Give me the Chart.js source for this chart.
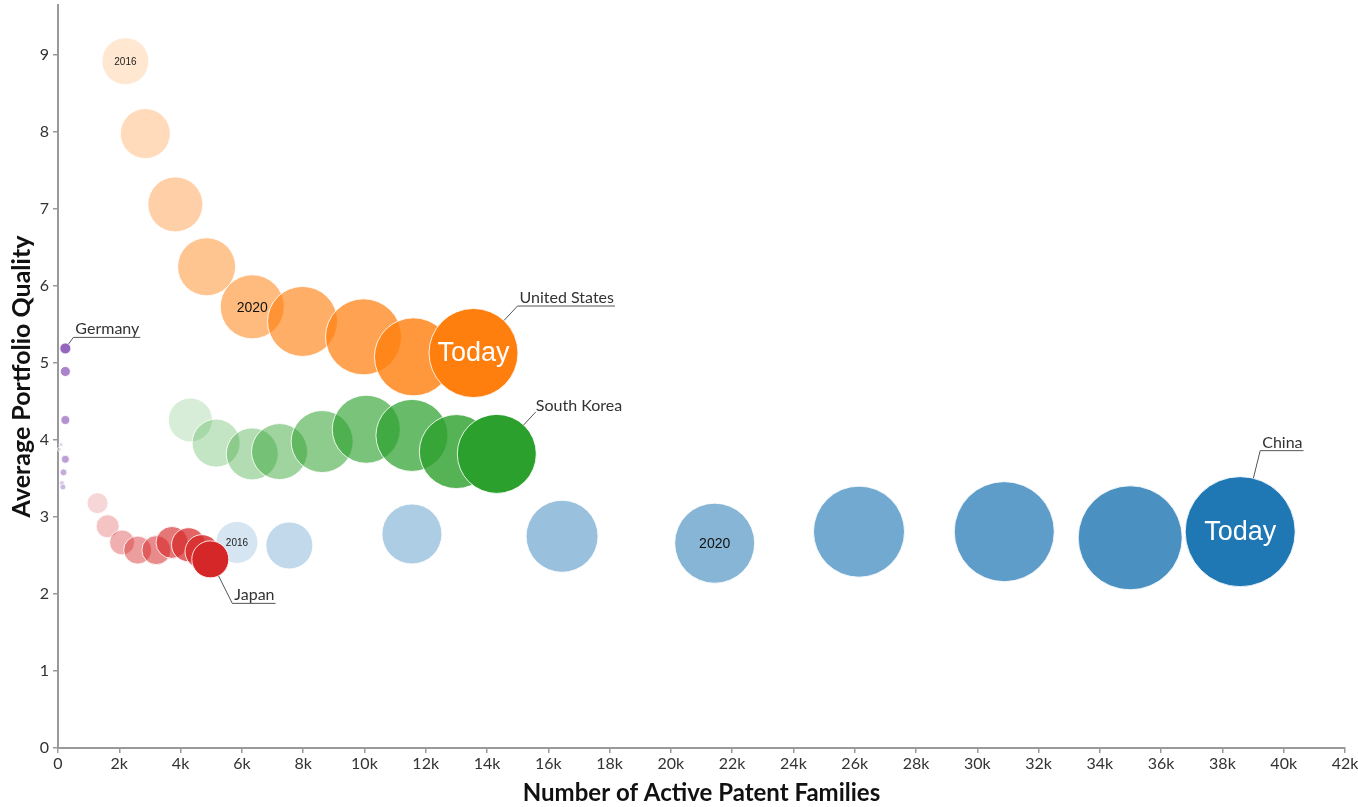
<!DOCTYPE html>
<html>
<head>
<meta charset="utf-8">
<script src="https://cdn.jsdelivr.net/npm/chart.js@4.4.1/dist/chart.umd.min.js"></script>
<style>
html, body { margin: 0; padding: 0; background: #fff; }
#wrap { width: 1358px; height: 807px; }
</style>
</head>
<body>
<div id="wrap"><canvas id="chart"></canvas></div>
<script>
// one bubble per year, the last one is the current state
const years = ['2016', '2017', '2018', '2019', '2020', '2021', '2022', '2023', 'Today'];

// x = active patent families, y = average portfolio quality, size = bubble size
const usFamilies = [2200, 2850, 3830, 4850, 6340, 7980, 9970, 11600, 13560];
const usQuality  = [8.92, 7.98, 7.06, 6.25, 5.73, 5.54, 5.34, 5.08, 5.13];
const usSize     = [23.5, 25, 27.5, 29, 32, 35, 38, 39, 44.5];

const koreaFamilies = [4320, 5160, 6340, 7230, 8620, 10060, 11550, 13000, 14320];
const koreaQuality  = [4.26, 3.96, 3.82, 3.85, 3.98, 4.14, 4.06, 3.85, 3.82];
const koreaSize     = [22, 24, 26, 28, 31, 34, 36, 37, 39.5];

const chinaFamilies = [5840, 7550, 11550, 16450, 21430, 26140, 30880, 34990, 38580];
const chinaQuality  = [2.67, 2.63, 2.78, 2.75, 2.66, 2.81, 2.81, 2.73, 2.81];
const chinaSize     = [21, 23.5, 30, 36, 40, 45.5, 50, 52, 55];

const japanFamilies = [1290, 1620, 2090, 2600, 3210, 3720, 4260, 4700, 4970];
const japanQuality  = [3.18, 2.88, 2.67, 2.57, 2.57, 2.67, 2.64, 2.55, 2.45];
const japanSize     = [10.5, 11.5, 12.5, 14, 14.5, 16, 17, 17, 18.5];

const germanyFamilies = [50, 100, 130, 160, 180, 240, 240, 240, 240];
const germanyQuality  = [3.88, 3.94, 3.44, 3.39, 3.58, 3.75, 4.26, 4.89, 5.19];
const germanySize     = [2, 2, 2.5, 3, 3.5, 4, 4.5, 5, 5.5];

const xTicks = [0, 2000, 4000, 6000, 8000, 10000, 12000, 14000, 16000, 18000, 20000,
  22000, 24000, 26000, 28000, 30000, 32000, 34000, 36000, 38000, 40000, 42000];
const yTicks = [0, 1, 2, 3, 4, 5, 6, 7, 8, 9];

// bubbles must not push the axes inward
Chart.BubbleController.prototype.getMaxOverflow = function () { return 0; };

function points(xs, ys, rs) {
  return xs.map((x, i) => ({ x: x, y: ys[i], r: rs[i] }));
}

// older years are paler
function shades(rgb) {
  return years.map((y, i) => {
    const a = i === years.length - 1 ? 1 : 0.19 + i * 0.088;
    return 'rgba(' + rgb + ',' + a.toFixed(3) + ')';
  });
}

function country(name, xs, ys, rs, rgb, callout, tagged) {
  return {
    label: name,
    data: points(xs, ys, rs),
    backgroundColor: shades(rgb),
    borderColor: 'rgba(255,255,255,0.85)',
    borderWidth: 1,
    clip: false,
    callout: callout,
    tagged: tagged
  };
}

// first dataset is drawn on top
const datasets = [
  country('Germany', germanyFamilies, germanyQuality, germanySize, '148,103,189', { dx: 8, dy: -11, line: true }, false),
  country('Japan', japanFamilies, japanQuality, japanSize, '214,39,40', { dx: 22, dy: 44, line: true }, false),
  country('United States', usFamilies, usQuality, usSize, '255,127,14', { dx: 44, dy: -47, line: true }, true),
  country('South Korea', koreaFamilies, koreaQuality, koreaSize, '44,160,44', { dx: 39, dy: -42, line: false }, false),
  country('China', chinaFamilies, chinaQuality, chinaSize, '31,119,180', { dx: 20, dy: -81, line: true }, true)
];

const labelPlugin = {
  id: 'bubbleLabels',
  afterDatasetsDraw(chart) {
    const ctx = chart.ctx;
    ctx.save();
    chart.data.datasets.forEach((ds, di) => {
      const meta = chart.getDatasetMeta(di);
      const last = meta.data.length - 1;
      // year tags inside the bubbles
      if (ds.tagged) {
        ctx.textAlign = 'center';
        ctx.textBaseline = 'middle';
        [[0, '10px', '#222'], [4, '14px', '#111'], [last, '27px', '#fff']].forEach(t => {
          const el = meta.data[t[0]];
          ctx.font = t[1] + ' "Liberation Sans", Arial, sans-serif';
          ctx.fillStyle = t[2];
          ctx.fillText(years[t[0]], el.x, el.y + 1);
        });
      }
      // country name with leader line
      const el = meta.data[last];
      const c = ds.callout;
      const r = el.options.radius;
      const len = Math.hypot(c.dx, c.dy);
      const sx = el.x + c.dx, sy = el.y + c.dy;
      ctx.strokeStyle = '#555';
      ctx.lineWidth = 1;
      ctx.beginPath();
      ctx.moveTo(el.x + c.dx / len * r, el.y + c.dy / len * r);
      ctx.lineTo(sx, sy);
      ctx.stroke();
      ctx.font = '16px Lato, sans-serif';
      ctx.textAlign = 'left';
      ctx.textBaseline = 'alphabetic';
      ctx.fillStyle = '#333';
      const w = ctx.measureText(ds.label).width;
      if (c.line) {
        ctx.beginPath();
        ctx.moveTo(sx, sy);
        ctx.lineTo(sx + w + 3, sy);
        ctx.stroke();
        ctx.fillText(ds.label, sx + 2, sy - 3);
      } else {
        ctx.fillText(ds.label, sx, sy - 1);
      }
    });
    ctx.restore();
  }
};

const tickFont = { family: 'Lato', size: 16 };

new Chart(document.getElementById('chart'), {
  type: 'bubble',
  data: { datasets: datasets },
  options: {
    responsive: true,
    maintainAspectRatio: false,
    animation: false,
    events: [],
    layout: { padding: { top: 5, right: 13, left: 0, bottom: 0 } },
    plugins: { legend: { display: false }, tooltip: { enabled: false } },
    scales: {
      x: {
        type: 'linear',
        min: xTicks[0],
        max: xTicks[xTicks.length - 1],
        afterBuildTicks: s => { s.ticks = xTicks.map(v => ({ value: v })); },
        afterFit: s => { s.height = 59; s.paddingRight = 0; s.paddingLeft = 0; },
        ticks: {
          font: tickFont,
          color: '#333',
          padding: 1,
          maxRotation: 0,
          autoSkip: false,
          callback: v => v === 0 ? '0' : (v / 1000) + 'k'
        },
        grid: { drawOnChartArea: false, tickLength: 5, color: '#999', lineWidth: 1.5 },
        border: { color: '#999', width: 2 },
        title: { display: true, text: 'Number of Active Patent Families', font: { family: 'Lato', size: 24, weight: 'bold' }, color: '#111', padding: { top: 0, bottom: -1 } }
      },
      y: {
        type: 'linear',
        min: 0,
        max: 9.65,
        afterBuildTicks: s => { s.ticks = yTicks.map(v => ({ value: v })); },
        afterFit: s => { s.width = 58; s.paddingTop = 0; s.paddingBottom = 0; },
        ticks: { font: tickFont, color: '#333', padding: 4 },
        grid: { drawOnChartArea: false, tickLength: 5, color: '#999', lineWidth: 1.5 },
        border: { color: '#999', width: 2 },
        title: { display: true, text: 'Average Portfolio Quality', font: { family: 'Lato', size: 25, weight: 'bold' }, color: '#111', padding: { top: 7, bottom: 0 } }
      }
    }
  },
  plugins: [labelPlugin]
});
</script>
</body>
</html>
